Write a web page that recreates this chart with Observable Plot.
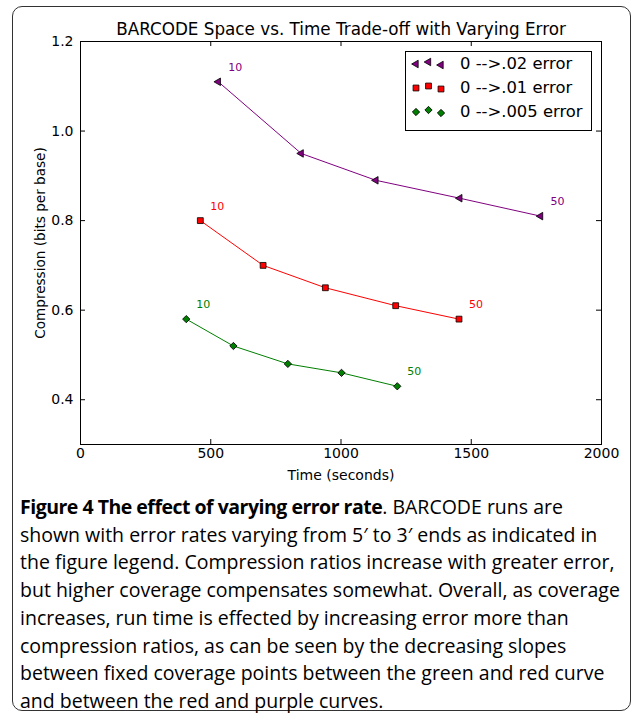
<!DOCTYPE html>
<html><head><meta charset="utf-8">
<script src="https://cdn.jsdelivr.net/npm/d3@7"></script>
<script src="https://cdn.jsdelivr.net/npm/@observablehq/plot@0.6"></script>
<style>
body{margin:0;background:#fff;width:634px;height:713px;position:relative;overflow:hidden;font-family:"DejaVu Sans",sans-serif}
#box{position:absolute;left:12px;top:6px;width:617px;height:703px;border:1.5px solid #333;border-radius:10px}
#chart{position:absolute;left:0;top:0}
#legend{position:absolute;left:405px;top:51px;width:185px;height:78px;border:1px solid #000;background:#fff}
.row{position:absolute;left:0;height:24px;width:185px}
.row svg{position:absolute;left:0;top:0}
.row span{position:absolute;left:54px;top:2px;font-size:16.4px;line-height:20px;color:#000;white-space:nowrap}
#caption{position:absolute;left:20px;top:493px;width:610px;font-family:"Open Sans",sans-serif;font-size:19.5px;line-height:27.7px;color:#000}
#caption div{white-space:nowrap}
#caption b{letter-spacing:-0.5px}
</style></head><body>
<div id="box"></div>
<div id="chart"></div>
<div id="legend"></div>
<div id="caption"></div>
<script>
// ---- data ----
const chartTitle = "BARCODE Space vs. Time Trade-off with Varying Error";
const xLabel = "Time (seconds)";
const yLabel = "Compression (bits per base)";
const seriesNames = ["0 -->.02 error", "0 -->.01 error", "0 -->.005 error"];
const seriesColors = ["#800080", "#ff0000", "#008000"];
const seriesSymbols = ["triangle", "square", "square"];
const seriesRotate = [-90, 0, 45];
const seriesR = [2.8, 3.3, 2.9];
const time02 = [529, 847, 1134, 1456, 1766];
const comp02 = [1.11, 0.95, 0.89, 0.85, 0.81];
const time01 = [460, 701, 940, 1210, 1453];
const comp01 = [0.80, 0.70, 0.65, 0.61, 0.58];
const time005 = [406, 587, 796, 1002, 1216];
const comp005 = [0.58, 0.52, 0.48, 0.46, 0.43];
const endLabels = ["10", "50"];
const xTicks = [0, 500, 1000, 1500, 2000];
const yTicks = [0.4, 0.6, 0.8, 1.0, 1.2];
const captionBold = "Figure 4 The effect of varying error rate";
const captionLines = [
  ". BARCODE runs are",
  "shown with error rates varying from 5\u2032 to 3\u2032 ends as indicated in",
  "the figure legend. Compression ratios increase with greater error,",
  "but higher coverage compensates somewhat. Overall, as coverage",
  "increases, run time is effected by increasing error more than",
  "compression ratios, as can be seen by the decreasing slopes",
  "between fixed coverage points between the green and red curve",
  "and between the red and purple curves."
];

// ---- build rows ----
const times = [time02, time01, time005];
const comps = [comp02, comp01, comp005];
const rows = [];
times.forEach((ts, i) => ts.forEach((t, j) => rows.push({series: seriesNames[i], idx: i, time: t, comp: comps[i][j], j})));
const ends = [];
times.forEach((ts, i) => {
  ends.push({series: seriesNames[i], time: ts[0], comp: comps[i][0], label: endLabels[0]});
  ends.push({series: seriesNames[i], time: ts[ts.length-1], comp: comps[i][ts.length-1], label: endLabels[1]});
});

const W = 634, H = 490, mL = 80, mR = 33, mT = 41, mB = 46;
const fw = W - mL - mR, fh = H - mT - mB;
const tick = 5;

const marks = [
  Plot.frame({stroke: "#000", strokeWidth: 1}),
  Plot.tickX(xTicks, {x: d => d, insetTop: fh - tick, stroke: "#000"}),
  Plot.tickX(xTicks, {x: d => d, insetBottom: fh - tick, stroke: "#000"}),
  Plot.tickY(yTicks, {y: d => d, insetRight: fw - tick, stroke: "#000"}),
  Plot.tickY(yTicks, {y: d => d, insetLeft: fw - tick, stroke: "#000"}),
  Plot.axisX({ticks: xTicks, tickSize: 0, tickPadding: 4, label: null, fontSize: 14, tickFormat: d => String(d)}),
  Plot.axisY({ticks: yTicks, tickSize: 0, tickPadding: 7, label: null, fontSize: 14, tickFormat: d => d.toFixed(1)}),
  Plot.line(rows, {x: "time", y: "comp", z: "series", stroke: "series", strokeWidth: 1}),
];
seriesNames.forEach((s, i) => {
  marks.push(Plot.dot(rows.filter(r => r.idx === i), {
    x: "time", y: "comp", symbol: seriesSymbols[i], rotate: seriesRotate[i], r: seriesR[i],
    fill: "series", stroke: "#000", strokeWidth: 0.8
  }));
});
marks.push(
  Plot.text(ends, {x: "time", y: "comp", text: "label", fill: "series", dx: 10, dy: -14.5, textAnchor: "start", fontSize: 11}),
  Plot.text([chartTitle], {text: d => d, frameAnchor: "top", lineAnchor: "middle", textAnchor: "middle", dy: -12, fontSize: 16.8, fill: "#000"}),
  Plot.text([xLabel], {text: d => d, frameAnchor: "bottom", lineAnchor: "middle", textAnchor: "middle", dy: 31, fontSize: 14, fill: "#000"}),
  Plot.text([yLabel], {text: d => d, frameAnchor: "left", lineAnchor: "middle", textAnchor: "middle", dx: -40, rotate: -90, fontSize: 13.6, fill: "#000"})
);

const chart = Plot.plot({
  width: W, height: H, marginLeft: mL, marginRight: mR, marginTop: mT, marginBottom: mB,
  style: {fontFamily: "DejaVu Sans", fontSize: "13px", color: "#000", background: "transparent", overflow: "visible"},
  x: {domain: [0, 2000]},
  y: {domain: [0.3, 1.2]},
  color: {domain: seriesNames, range: seriesColors},
  marks
});
document.getElementById("chart").appendChild(chart);

// ---- legend ----
const legend = d3.select("#legend");
const legendDx = [10, 22.5, 35];
const legendDy = [0, -2, 1];
seriesNames.forEach((s, i) => {
  const row = legend.append("div").attr("class", "row").style("top", (i * 24) + "px");
  const svg = row.append("svg").attr("width", 50).attr("height", 24);
  const sym = seriesSymbols[i] === "triangle" ? d3.symbolTriangle : d3.symbolSquare;
  legendDx.forEach((dx, k) => {
    svg.append("path")
      .attr("d", d3.symbol(sym, Math.PI * seriesR[i] * seriesR[i])())
      .attr("transform", `translate(${dx},${12 + legendDy[k]}) rotate(${seriesRotate[i]})`)
      .attr("fill", seriesColors[i]).attr("stroke", "#000").attr("stroke-width", 0.8);
  });
  row.append("span").text(s);
});

// ---- caption ----
const cap = d3.select("#caption");
const first = cap.append("div");
first.append("b").text(captionBold);
first.append("span").text(captionLines[0]);
captionLines.slice(1).forEach(l => cap.append("div").text(l));
</script>
</body></html>
